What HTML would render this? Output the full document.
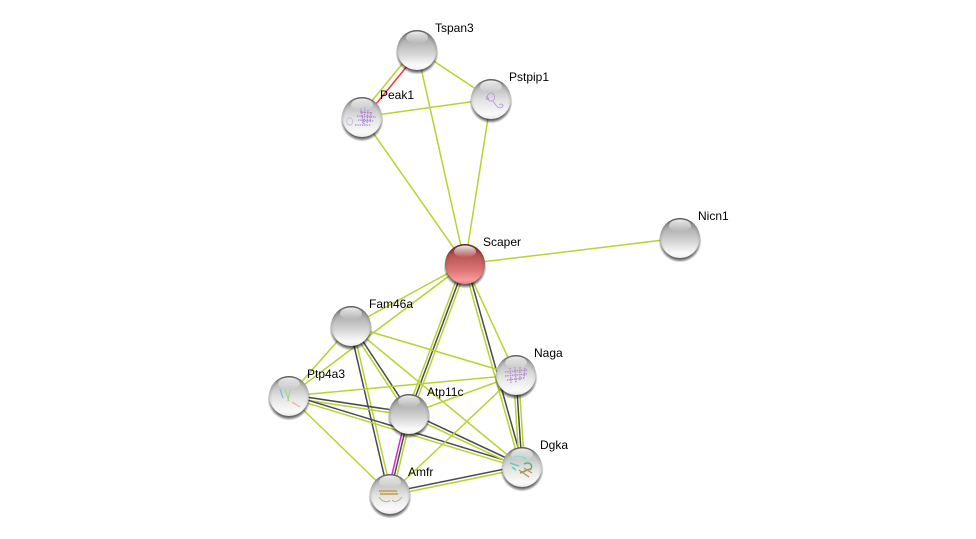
<!DOCTYPE html>
<html><head><meta charset="utf-8"><style>
html,body{margin:0;padding:0;background:#fff;width:976px;height:539px;overflow:hidden}
svg{display:block}
text{font-family:"Liberation Sans",sans-serif;font-size:12px;fill:#000}
.y{stroke:#b8d32e;stroke-width:1.5;fill:none}
.d{stroke:#4a4a4a;stroke-width:1.5;fill:none}
</style></head><body>
<svg width="976" height="539" viewBox="0 0 976 539" xmlns="http://www.w3.org/2000/svg">
<defs>
<linearGradient id="g" x1="0" y1="0" x2="0" y2="1">
<stop offset="0" stop-color="#7f7f7f"/><stop offset=".22" stop-color="#acacac"/><stop offset=".6" stop-color="#d6d6d6"/><stop offset=".88" stop-color="#fbfbfb"/><stop offset="1" stop-color="#f2f2f2"/>
</linearGradient>
<linearGradient id="s" x1="0" y1="0" x2="0" y2="1">
<stop offset="0" stop-color="#808080"/><stop offset=".2" stop-color="#bdbdbd"/><stop offset=".55" stop-color="#e4e4e4"/><stop offset=".88" stop-color="#fafafa"/><stop offset="1" stop-color="#ececec"/>
</linearGradient>
<linearGradient id="r" x1="0" y1="0" x2="0" y2="1">
<stop offset="0" stop-color="#7e2f2f"/><stop offset=".25" stop-color="#b25252"/><stop offset=".65" stop-color="#dc7474"/><stop offset=".9" stop-color="#f89a9a"/><stop offset="1" stop-color="#e08888"/>
</linearGradient>
<linearGradient id="h" x1="0" y1="0" x2="0" y2="1">
<stop offset="0" stop-color="#fff" stop-opacity=".9"/><stop offset="1" stop-color="#fff" stop-opacity="0"/>
</linearGradient>
<radialGradient id="rim" cx=".5" cy=".56" r=".56">
<stop offset=".76" stop-color="#000" stop-opacity="0"/><stop offset=".92" stop-color="#000" stop-opacity=".14"/><stop offset="1" stop-color="#000" stop-opacity=".38"/>
</radialGradient>
<radialGradient id="sh" cx=".5" cy=".5" r=".5">
<stop offset=".84" stop-color="#000" stop-opacity=".6"/><stop offset="1" stop-color="#000" stop-opacity="0"/>
</radialGradient>
<g id="gloss"><circle r="20" fill="url(#rim)"/><ellipse cx="0" cy="-12.5" rx="11" ry="6" fill="url(#h)"/></g>
</defs>

<!-- edges -->
<line class="y" x1="415" y1="48.35" x2="360" y2="115.35"/>
<line x1="419" y1="51.65" x2="364" y2="118.65" stroke="#ef3b3b" stroke-width="1.5"/>
<line class="y" x1="417" y1="50" x2="491" y2="99"/>
<line class="y" x1="417" y1="50" x2="465" y2="264"/>
<line class="y" x1="362" y1="117" x2="491" y2="99"/>
<line class="y" x1="362" y1="117" x2="465" y2="264"/>
<line class="y" x1="491" y1="99" x2="465" y2="264"/>
<line class="y" x1="465" y1="264" x2="680" y2="238"/>
<line class="y" x1="465" y1="264" x2="351" y2="326"/>
<line class="y" x1="465" y1="264" x2="289" y2="396"/>
<line class="y" x1="465" y1="264" x2="516" y2="375"/>
<line class="y" x1="462.56" y1="263.09" x2="406.56" y2="413.09"/>
<line class="d" x1="465" y1="264" x2="409" y2="414"/>
<line class="y" x1="467.44" y1="264.91" x2="411.44" y2="414.91"/>
<line class="y" x1="463.56" y1="264.4" x2="520.56" y2="467.4"/>
<line class="d" x1="466.44" y1="263.6" x2="523.44" y2="466.6"/>
<line class="y" x1="351" y1="326" x2="289" y2="396"/>
<line class="y" x1="351" y1="326" x2="516" y2="375"/>
<line class="y" x1="351" y1="326" x2="522" y2="467"/>
<line class="y" x1="349.75" y1="326.83" x2="407.75" y2="414.83"/>
<line class="d" x1="352.25" y1="325.17" x2="410.25" y2="413.17"/>
<line class="d" x1="349.54" y1="326.34" x2="388.54" y2="494.34"/>
<line class="y" x1="352.46" y1="325.66" x2="391.46" y2="493.66"/>
<line class="y" x1="289" y1="396" x2="516" y2="375"/>
<line class="d" x1="289.22" y1="394.52" x2="409.22" y2="412.52"/>
<line class="y" x1="288.78" y1="397.48" x2="408.78" y2="415.48"/>
<line class="d" x1="289.44" y1="394.57" x2="522.44" y2="465.57"/>
<line class="y" x1="288.56" y1="397.43" x2="521.56" y2="468.43"/>
<line class="y" x1="289" y1="396" x2="390" y2="494"/>
<line class="y" x1="409" y1="414" x2="516" y2="375"/>
<line class="d" x1="409.64" y1="412.64" x2="522.64" y2="465.64"/>
<line class="y" x1="408.36" y1="415.36" x2="521.36" y2="468.36"/>
<line x1="406.47" y1="413.4" x2="387.47" y2="493.4" stroke="#d02cc8" stroke-width="1.5"/>
<line class="d" x1="409" y1="414" x2="390" y2="494"/>
<line class="y" x1="411.53" y1="414.6" x2="392.53" y2="494.6"/>
<line class="y" x1="513.4" y1="375.17" x2="519.4" y2="467.17"/>
<line class="d" x1="516" y1="375" x2="522" y2="467"/>
<line class="y" x1="518.6" y1="374.83" x2="524.6" y2="466.83"/>
<line class="y" x1="516" y1="375" x2="390" y2="494"/>
<line class="d" x1="389.7" y1="492.53" x2="521.7" y2="465.53"/>
<line class="y" x1="390.3" y1="495.47" x2="522.3" y2="468.47"/>

<!-- nodes -->
<g transform="translate(417,50)"><circle cy="3" r="21.5" fill="url(#sh)"/><circle r="20" fill="url(#g)"/><use href="#gloss"/></g>

<g transform="translate(491,99)"><circle cy="3" r="21.5" fill="url(#sh)"/><circle r="20" fill="url(#s)"/>
<path d="M-1,-6 C-6,-3 -3,3 1,2 C6,0 3,-7 -1,-6 M2,2 C5,6 7,11 11,8 C14,6 10,4 8,6 M-2,-1 C-4,2 -5,0 -4,-3" fill="none" stroke="#b79ad6" stroke-width=".9"/><use href="#gloss"/></g>

<g transform="translate(362,117)"><circle cy="3" r="21.5" fill="url(#sh)"/><circle r="20" fill="url(#s)"/>
<path d="M-5,-1 L14,0 M-4,3 L12,4 M-2,-5 L10,-4 M-7,8 L9,8 M-1,-9 L1,6 M3,-10 L2,7 M6,-7 L5,6 M9,-5 L8,5" fill="none" stroke="#ae84d2" stroke-width="1.3" stroke-dasharray="1.4 .9"/><path d="M-15,2 C-11,-1 -8,3 -10,7 C-13,10 -16,7 -15,2" fill="none" stroke="#c8bcd4" stroke-width=".9"/><use href="#gloss"/></g>

<g transform="translate(465,264)"><circle cy="3" r="21.5" fill="url(#sh)"/><circle r="20" fill="url(#r)"/><use href="#gloss"/></g>

<g transform="translate(680,238)"><circle cy="3" r="21.5" fill="url(#sh)"/><circle r="20" fill="url(#g)"/><use href="#gloss"/></g>

<g transform="translate(351,326)"><circle cy="3" r="21.5" fill="url(#sh)"/><circle r="20" fill="url(#g)"/><use href="#gloss"/></g>

<g transform="translate(516,375)"><circle cy="3" r="21.5" fill="url(#sh)"/><circle r="20" fill="url(#s)"/>
<path d="M-11,-3 L12,-5 M-11,1 L11,-1 M-9,5 L8,3 M-6,-7 L-5,8 M-1,-8 L0,8 M4,-8 L4,6 M9,-7 L8,3" fill="none" stroke="#b48ed6" stroke-width="1.4" stroke-dasharray="1.4 .9"/><use href="#gloss"/></g>

<g transform="translate(289,396)"><circle cy="3" r="21.5" fill="url(#sh)"/><circle r="20" fill="url(#s)"/>
<path d="M-9,-7 L-6,2" fill="none" stroke="#6fc4e0" stroke-width="1.3"/><path d="M-4,-6 L0,5 M1,-6 L-1,5" fill="none" stroke="#a8d68a" stroke-width="1.3"/><path d="M3,6 L11,11" fill="none" stroke="#e0a080" stroke-width="1"/><use href="#gloss"/></g>

<g transform="translate(409,414)"><circle cy="3" r="21.5" fill="url(#sh)"/><circle r="20" fill="url(#g)"/><use href="#gloss"/></g>

<g transform="translate(522,467)"><circle cy="3" r="21.5" fill="url(#sh)"/><circle r="20" fill="url(#s)"/>
<path d="M-12,-4 L-3,-1 M-10,0 L-6,3 M-8,-10 C-4,-12 2,-10 4,-8" fill="none" stroke="#5fd0c0" stroke-width="1.5"/><path d="M2,-3 C8,-6 12,-1 8,3 M-2,6 L8,2" fill="none" stroke="#58b868" stroke-width="1.5"/><path d="M-3,3 L7,10 M2,1 L10,6" fill="none" stroke="#d8804c" stroke-width="1.1"/><use href="#gloss"/></g>

<g transform="translate(390,494)"><circle cy="3" r="21.5" fill="url(#sh)"/><circle r="20" fill="url(#s)"/>
<path d="M-11,-3 H7 M-10,0 H8" fill="none" stroke="#c8a850" stroke-width="1.7"/><path d="M-11,3 C-8,8 -2,9 0,6 M2,6 C5,9 9,7 12,3" fill="none" stroke="#b8a878" stroke-width=".9"/><use href="#gloss"/></g>

<!-- labels -->
<text x="435" y="32">Tspan3</text>
<text x="509" y="81">Pstpip1</text>
<text x="380" y="99">Peak1</text>
<text x="483" y="246">Scaper</text>
<text x="698" y="220">Nicn1</text>
<text x="369" y="308">Fam46a</text>
<text x="534" y="357">Naga</text>
<text x="307" y="378">Ptp4a3</text>
<text x="427" y="396">Atp11c</text>
<text x="540" y="449">Dgka</text>
<text x="408" y="476">Amfr</text>
</svg>
</body></html>
